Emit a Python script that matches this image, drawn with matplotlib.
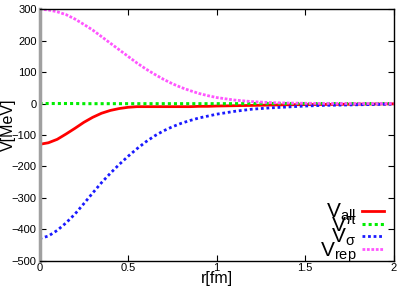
import numpy as np
import matplotlib
matplotlib.use('Agg')
import matplotlib.pyplot as plt

plt.rcParams['font.family'] = ['Liberation Sans', 'DejaVu Sans']
plt.rcParams['mathtext.fontset'] = 'custom'
plt.rcParams['mathtext.rm'] = 'Liberation Sans'
plt.rcParams['mathtext.it'] = 'Liberation Sans'
plt.rcParams['mathtext.bf'] = 'Liberation Sans'

# values
r = [0.0, 0.05, 0.1, 0.15, 0.2, 0.25, 0.3, 0.35, 0.4, 0.45, 0.5, 0.55, 0.6, 0.65, 0.7,
     0.75, 0.8, 0.85, 0.9, 0.95, 1.0, 1.1, 1.2, 1.3, 1.4, 1.5, 1.6, 1.7, 1.8, 1.9, 2.0]

v_all = [-130, -125, -114, -97, -79, -60, -44, -31, -22, -16, -12, -10, -10, -10, -10,
         -10, -10, -10, -9, -9, -8, -7, -6, -5, -4, -3.5, -3, -2.5, -2, -1.5, -1]
v_pi = [0, 0, 0, 0, 0, -0.5, -0.5, -0.5, -0.5, -0.5, -0.5, -0.5, -0.5, -0.5, -0.5,
        -0.5, -0.5, -0.5, -0.5, -0.5, -0.5, -0.5, 0, 0, 0, 0, 0, 0, 0, 0, 0]
v_sigma = [-430, -422, -404, -380, -352, -319, -285, -252, -222, -194, -168, -144, -122, -103, -87,
           -74, -63, -54, -46, -40, -34, -25, -18, -14, -11, -8, -6, -5, -4, -3, -2]
v_rep = [300, 298, 292, 283, 269, 252, 234, 213, 192, 171, 150, 129, 110, 93, 77,
         63, 51, 41, 32, 25, 19, 11, 6, 3, 1.5, 0.7, 0.3, 0.1, 0, 0, 0]

fig = plt.figure(figsize=(4.09, 2.86), dpi=100)
ax = fig.add_axes([0.0966, 0.089, 0.8664, 0.8785])

ax.plot(r, v_all, color='#ff0000', lw=2.0, label=r'$\mathrm{V}_{\mathrm{all}}$')
ax.plot(r, v_pi, color='#00ee00', lw=2.2, ls=(0, (1, 1)), label=r'$\mathrm{V}^{\pi}$')
ax.plot(r, v_sigma, color='#1a1aff', lw=2.0, ls=(0, (1, 1)), label=r'$\mathrm{V}_{\sigma}$')
ax.plot(r, v_rep, color='#ff55ff', lw=2.0, ls=(0, (1, 0.6)), label=r'$\mathrm{V}_{\mathrm{rep}}$')

ax.set_xlim(0, 2)
ax.set_ylim(-500, 300)
ax.set_xticks([0, 0.5, 1, 1.5, 2])
ax.set_xticklabels(['0', '0.5', '1', '1.5', '2'])
ax.set_yticks(range(-500, 301, 100))
ax.tick_params(direction='in', top=True, right=True, labelsize=8, length=4, width=0.8, pad=2)

for s in ['top', 'right', 'bottom']:
    ax.spines[s].set_linewidth(1.0)
    ax.spines[s].set_color('black')
ax.spines['left'].set_color('#a0a0a0')
ax.spines['left'].set_linewidth(2.5)

ax.set_xlabel('r[fm]', fontsize=11.5)
ax.set_ylabel('V[MeV]', fontsize=11.5)
ax.xaxis.set_label_coords(0.5, -0.04)
ax.yaxis.set_label_coords(-0.066, 0.54)

leg = ax.legend(loc='lower right', frameon=False, markerfirst=False, fontsize=15,
                handlelength=1.06, handletextpad=0.3, labelspacing=-0.39,
                borderaxespad=0.0, bbox_to_anchor=(0.997, -0.05))
for t in leg.get_texts():
    t.set_ha('right')

fig.savefig('out.png', dpi=100)
